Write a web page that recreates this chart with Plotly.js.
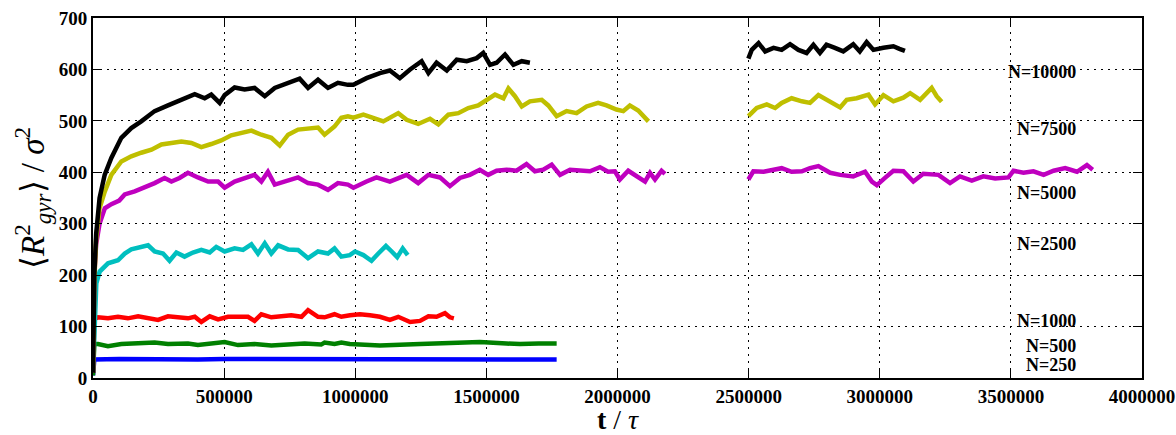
<!DOCTYPE html>
<html>
<head>
<meta charset="utf-8">
<script src="https://cdn.plot.ly/plotly-3.0.1.min.js"></script>
<style>html,body{margin:0;padding:0;background:#fff;}#chart{width:1176px;height:435px;}</style>
</head>
<body>
<div id="chart"></div>
<script>
// ---------- DATA ----------
const seriesNames = ["N=250","N=500","N=1000","N=2500","N=5000","N=7500","N=10000"];

const t_250 = [0,5000,100000,200000,300000,400000,500000,600000,700000,800000,900000,1000000,1100000,1200000,1300000,1400000,1500000,1600000,1700000,1768000];
const v_250 = [5,36,37,36,37,36,37,37,37,36,36,36,37,36,37,36,36,36,36,36];

const t_500 = [0,5000,19000,57000,108000,184000,235000,286000,362000,400000,464000,502000,553000,616000,680000,744000,807000,870000,883000,921000,947000,979000,1094000,1247000,1399000,1475000,1577000,1628000,1700000,1768000];
const v_500 = [5,66,66,62,66,67,69,66,67,64,67,70,64,66,63,66,67,65,69,66,69,66,63,66,69,70,67,66,67,67];

const t_1000 = [0,5000,19000,57200,95300,133000,172000,210000,248000,286000,324000,362000,388000,413000,445000,477000,515000,553000,591000,616000,642000,680000,718000,756000,795000,820000,858000,883000,921000,947000,980000,1018000,1056000,1094000,1132000,1164000,1209000,1247000,1279000,1310000,1342000,1361000,1376000];
const v_1000 = [10,115,118,116,119,116,120,116,113,120,118,116,119,109,120,114,119,118,119,111,124,118,120,122,119,132,119,118,124,119,122,124,122,119,113,119,109,111,120,119,126,118,116];

const t_2500 = [0,6000,12700,25400,57200,95300,121000,146000,178000,210000,235000,267000,292000,318000,349000,381000,413000,445000,470000,502000,540000,572000,604000,629000,655000,680000,706000,744000,782000,820000,858000,896000,921000,947000,979000,999000,1031000,1062000,1088000,1117000,1139000,1160000,1181000,1200000];
const v_2500 = [10,132,184,207,223,229,242,250,255,258,246,242,228,244,236,244,249,244,255,246,252,249,260,242,262,242,258,250,249,233,246,242,252,236,239,246,239,228,242,257,246,235,252,239];

const t_5000_a = [0,5000,12000,25000,45000,70000,100000,121000,159000,197000,235000,273000,299000,330000,362000,400000,439000,477000,502000,540000,578000,616000,642000,667000,693000,731000,782000,820000,858000,896000,934000,972000,993000,1043000,1081000,1132000,1196000,1240000,1279000,1323000,1361000,1399000,1437000,1475000,1507000,1539000,1577000,1615000,1653000,1685000,1717000,1749000,1781000,1819000,1857000,1895000,1933000,1964000,1990000,2009000,2041000,2073000,2105000,2124000,2143000,2168000,2181000];
const v_5000_a = [10,200,260,300,330,338,345,357,363,370,379,389,382,389,399,390,382,382,370,382,389,395,382,401,376,382,390,379,376,366,379,376,370,382,390,382,395,379,395,390,373,389,395,405,395,403,405,403,416,402,405,415,395,405,403,402,410,401,402,386,403,392,382,399,386,403,397];
const t_5000_b = [2499000,2518000,2557000,2588000,2626000,2664000,2703000,2734000,2766000,2811000,2849000,2899000,2944000,2970000,2989000,3020000,3052000,3090000,3128000,3166000,3224000,3268000,3306000,3351000,3395000,3440000,3491000,3510000,3548000,3586000,3625000,3663000,3707000,3752000,3790000,3812000];
const v_5000_b = [386,402,401,405,408,401,402,408,412,399,395,392,401,382,375,389,403,402,382,397,395,379,392,384,392,388,390,403,399,402,395,403,408,401,414,405];

const t_7500_a = [0,5000,12000,25000,44500,69900,108000,146000,184000,223000,261000,299000,337000,375000,413000,451000,489000,527000,566000,604000,642000,680000,712000,744000,782000,820000,858000,883000,921000,947000,972000,993000,1031000,1068000,1107000,1164000,1196000,1240000,1285000,1317000,1355000,1393000,1431000,1469000,1501000,1533000,1565000,1584000,1609000,1635000,1666000,1711000,1736000,1768000,1806000,1844000,1882000,1926000,1958000,1996000,2022000,2047000,2079000,2105000,2118000];
const v_7500_a = [10,190,270,330,362,395,421,431,438,444,454,457,460,457,449,455,462,472,476,481,473,467,452,473,483,486,487,473,489,506,509,506,512,506,499,515,502,494,504,493,512,515,525,530,541,551,544,563,548,528,538,541,530,509,519,515,528,535,530,522,519,530,520,506,499];
const t_7500_b = [2499000,2531000,2569000,2601000,2626000,2664000,2703000,2734000,2766000,2811000,2849000,2874000,2912000,2957000,2982000,3014000,3052000,3090000,3116000,3154000,3198000,3217000,3236000];
const v_7500_b = [509,525,532,525,535,544,538,535,550,538,526,541,544,551,532,550,538,545,554,541,564,548,537];

const t_10000_a = [0,5000,12000,25000,44500,69900,108000,146000,184000,235000,286000,337000,388000,426000,451000,483000,502000,540000,578000,616000,655000,693000,744000,788000,820000,858000,896000,934000,972000,993000,1043000,1094000,1132000,1170000,1209000,1253000,1279000,1310000,1349000,1387000,1425000,1463000,1488000,1514000,1539000,1571000,1603000,1635000,1666000];
const v_10000_a = [10,200,280,350,395,428,467,486,499,519,530,541,552,544,551,535,550,565,561,564,548,564,574,582,564,580,564,574,570,570,583,593,598,583,600,616,593,613,598,619,616,622,632,609,613,629,609,616,613];
const t_10000_b = [2499000,2512000,2538000,2563000,2595000,2626000,2658000,2690000,2721000,2747000,2772000,2797000,2829000,2861000,2899000,2924000,2950000,2976000,3014000,3052000,3075000,3096000];
const v_10000_b = [621,638,651,635,642,638,649,638,632,648,632,648,642,635,649,635,653,638,642,645,640,636];

const labelText = ["N=10000","N=7500","N=5000","N=2500","N=1000","N=500","N=250"];
const labelX = [3752000,3752000,3752000,3752000,3752000,3752000,3752000];
const labelY = [595,485,360,260,111,62,26];

const xTickVals = [0,500000,1000000,1500000,2000000,2500000,3000000,3500000,4000000];
const xTickText = ["0","500000","1000000","1500000","2000000","2500000","3000000","3500000","4000000"];
const yTickVals = [0,100,200,300,400,500,600,700];
const yTickText = ["0","100","200","300","400","500","600","700"];

// ---------- STYLE ----------
const colors = {"N=250":"#0000ff","N=500":"#008000","N=1000":"#ff0000","N=2500":"#00bfbf","N=5000":"#bf00bf","N=7500":"#bfbf00","N=10000":"#000000"};
const FONT = "Liberation Serif, Times New Roman, serif";

function join(a, b){ return b ? a.concat([null], b) : a; }

const seriesData = {
  "N=250":[t_250, v_250],
  "N=500":[t_500, v_500],
  "N=1000":[t_1000, v_1000],
  "N=2500":[t_2500, v_2500],
  "N=5000":[join(t_5000_a, t_5000_b), join(v_5000_a, v_5000_b)],
  "N=7500":[join(t_7500_a, t_7500_b), join(v_7500_a, v_7500_b)],
  "N=10000":[join(t_10000_a, t_10000_b), join(v_10000_a, v_10000_b)]
};

const traces = seriesNames.map(n => ({
  type:'scatter', mode:'lines', name:n,
  x: seriesData[n][0], y: seriesData[n][1],
  connectgaps:false,
  line:{color:colors[n], width:4.5}
}));

const annotations = labelText.map((s,i) => ({
  x: labelX[i], y: labelY[i], xref:'x', yref:'y',
  text:'<b>'+s+'</b>', showarrow:false, xanchor:'right', yanchor:'middle',
  borderpad:0,
  font:{family:FONT, size:18, color:'black'}
}));

const axisCommon = {
  ticks:'inside', ticklen:9, tickwidth:1, tickcolor:'black',
  showline:true, linewidth:2, linecolor:'black', mirror:'ticks',
  showgrid:true, gridcolor:'black', gridwidth:1, griddash:'2px,5px',
  zeroline:false,
  tickfont:{family:FONT, size:19, color:'black', weight:'bold'}
};

const layout = {
  width:1176, height:435,
  margin:{l:93, r:34, t:18, b:57, pad:0},
  paper_bgcolor:'white', plot_bgcolor:'white',
  showlegend:false,
  xaxis: Object.assign({}, axisCommon, {
    range:[0,4000000], tickmode:'array', tickvals:xTickVals, ticktext:xTickText,
    title:{text:'<b>t</b> / <i>τ</i>', font:{family:FONT, size:28, color:'black'}, standoff:7}
  }),
  yaxis: Object.assign({}, axisCommon, {
    range:[0,700], tickmode:'array', tickvals:yTickVals, ticktext:yTickText,
    title:{text:'⟨<i>R</i><sup>2</sup><sub><i>gyr</i></sub>⟩ / <i>σ</i><sup>2</sup>', font:{family:FONT, size:33, color:'black'}, standoff:4}
  }),
  annotations: annotations
};

Plotly.newPlot('chart', traces, layout, {displayModeBar:false, staticPlot:true});
</script>
</body>
</html>
